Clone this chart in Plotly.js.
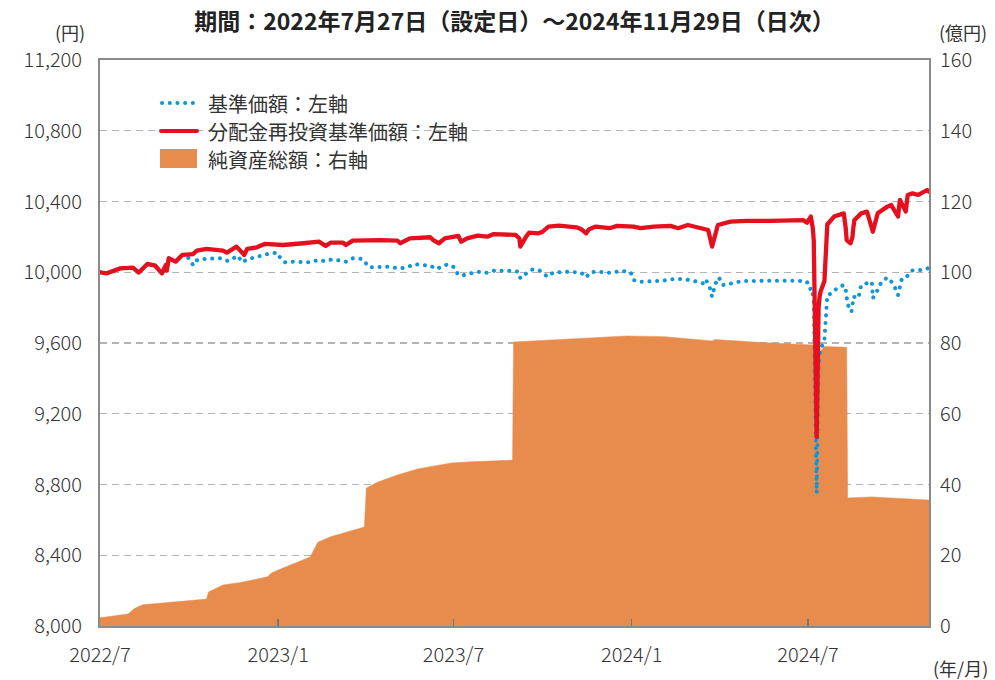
<!DOCTYPE html>
<html>
<head>
<meta charset="utf-8">
<script src="https://cdn.plot.ly/plotly-3.0.1.min.js"></script>
<style>
  body { margin: 0; background: #fff; }
  #chart { width: 995px; height: 680px; }
  .js-line, .shapelayer path { stroke-linecap: round; stroke-linejoin: round; }
</style>
</head>
<body>
<div id="chart"></div>
<script>
// 分配金再投資基準価額 (円, 左軸)
const reinvDates = [
  '2022-07-27','2022-08-03','2022-08-17','2022-08-30','2022-09-05','2022-09-14','2022-09-22','2022-09-29',
  '2022-10-03','2022-10-04','2022-10-06','2022-10-13','2022-10-20','2022-10-31','2022-11-04','2022-11-14',
  '2022-12-01','2022-12-05','2022-12-15','2022-12-21','2022-12-23','2022-12-26','2023-01-05','2023-01-13',
  '2023-01-26','2023-02-01','2023-02-22','2023-03-10','2023-03-17','2023-03-22','2023-04-04','2023-04-07',
  '2023-04-14','2023-05-02','2023-05-12','2023-05-30','2023-06-02','2023-06-12','2023-07-03','2023-07-06',
  '2023-07-12','2023-07-18','2023-08-01','2023-08-04','2023-08-10','2023-08-21','2023-08-31','2023-09-06',
  '2023-09-29','2023-10-03','2023-10-04','2023-10-10','2023-10-13','2023-10-23','2023-10-27','2023-11-02',
  '2023-11-13','2023-12-01','2023-12-06','2023-12-11','2023-12-14','2023-12-21','2024-01-04','2024-01-12',
  '2024-01-29','2024-02-05','2024-02-19','2024-03-07','2024-03-15','2024-03-25','2024-04-09','2024-04-15',
  '2024-04-19','2024-04-25','2024-05-08','2024-05-24','2024-06-18','2024-07-22','2024-07-26','2024-07-30',
  '2024-08-01','2024-08-02','2024-08-05','2024-08-06','2024-08-07','2024-08-08','2024-08-09','2024-08-13',
  '2024-08-14','2024-08-15','2024-08-16','2024-08-23','2024-09-02','2024-09-04','2024-09-05','2024-09-09',
  '2024-09-11','2024-09-12','2024-09-13','2024-09-20','2024-09-26','2024-10-02','2024-10-07','2024-10-17',
  '2024-10-21','2024-10-28','2024-10-30','2024-11-05','2024-11-07','2024-11-12','2024-11-18','2024-11-27',
  '2024-11-29'
];
const reinvValues = [
  10000, 9994, 10022, 10026, 9998, 10047, 10037, 9994,
  10041, 10009, 10079, 10060, 10098, 10103, 10122, 10132,
  10122, 10111, 10145, 10103, 10098, 10132, 10141, 10160,
  10160, 10154, 10164, 10173, 10149, 10167, 10167, 10154,
  10179, 10182, 10182, 10179, 10164, 10192, 10198, 10182,
  10164, 10192, 10205, 10173, 10192, 10207, 10201, 10215,
  10211, 10192, 10145, 10201, 10224, 10220, 10229, 10258,
  10263, 10254, 10243, 10220, 10243, 10258, 10249, 10262,
  10258, 10249, 10258, 10262, 10249, 10267, 10249, 10239,
  10145, 10267, 10286, 10291, 10291, 10295, 10280, 10315,
  10250, 10180, 9069, 9600, 9800, 9860, 9890, 9950,
  10035, 10200, 10270, 10315, 10333, 10250, 10182, 10164,
  10200, 10258, 10295, 10333, 10343, 10229, 10333, 10371,
  10380, 10315, 10409, 10343, 10437, 10446, 10437, 10465,
  10456
];

// 基準価額 (円, 左軸)
const navDates = [
  '2022-07-27','2022-08-03','2022-08-17','2022-08-30','2022-09-05','2022-09-14','2022-09-22','2022-09-29',
  '2022-10-03','2022-10-04','2022-10-06','2022-10-13','2022-10-20','2022-10-27','2022-10-31','2022-11-02',
  '2022-11-10','2022-11-21','2022-11-28','2022-12-05','2022-12-09','2022-12-16','2022-12-21','2022-12-26',
  '2023-01-04','2023-01-10','2023-01-16','2023-01-26','2023-01-30','2023-02-03','2023-02-10','2023-03-01',
  '2023-03-09','2023-03-16','2023-03-24','2023-04-07','2023-04-14','2023-04-24','2023-04-28','2023-05-01',
  '2023-05-19','2023-05-29','2023-06-02','2023-06-09','2023-06-16','2023-07-03','2023-07-10','2023-07-14',
  '2023-07-21','2023-07-28','2023-07-31','2023-08-04','2023-08-10','2023-08-23','2023-08-31','2023-09-07',
  '2023-09-22','2023-10-02','2023-10-04','2023-10-11','2023-10-17','2023-10-24','2023-10-27','2023-11-01',
  '2023-11-07','2023-11-24','2023-12-06','2023-12-11','2023-12-15','2023-12-22','2024-01-04','2024-01-10',
  '2024-01-18','2024-01-26','2024-01-29','2024-02-05','2024-02-28','2024-03-07','2024-03-21','2024-04-04',
  '2024-04-10','2024-04-12','2024-04-16','2024-04-19','2024-04-22','2024-04-26','2024-04-30','2024-05-07',
  '2024-05-20','2024-06-21','2024-07-17','2024-07-26','2024-07-29','2024-07-31','2024-08-01','2024-08-02',
  '2024-08-05','2024-08-06','2024-08-07','2024-08-08','2024-08-09','2024-08-13','2024-08-14','2024-08-15',
  '2024-08-16','2024-08-21','2024-08-26','2024-09-02','2024-09-04','2024-09-05','2024-09-06','2024-09-09',
  '2024-09-10','2024-09-11','2024-09-12','2024-09-17','2024-09-18','2024-09-20','2024-10-01','2024-10-02',
  '2024-10-07','2024-10-11','2024-10-17','2024-10-23','2024-10-28','2024-11-01','2024-11-06','2024-11-11',
  '2024-11-22','2024-11-28','2024-11-29'
];
const navValues = [
  10000, 9994, 10022, 10026, 9998, 10047, 10037, 9994,
  10041, 10009, 10079, 10060, 10098, 10079, 10041, 10065,
  10075, 10079, 10079, 10065, 10069, 10094, 10056, 10073,
  10088, 10098, 10103, 10111, 10073, 10056, 10060, 10056,
  10069, 10063, 10073, 10060, 10079, 10075, 10045, 10028,
  10031, 10028, 10022, 10028, 10045, 10037, 10018, 10031,
  10045, 10028, 9994, 9979, 9990, 10003, 9997, 10009,
  10009, 10003, 9966, 9997, 10017, 10009, 9994, 9975,
  9999, 10003, 9997, 9971, 9999, 10003, 9997, 9999,
  10007, 9999, 9956, 9946, 9952, 9960, 9962, 9946,
  9937, 9960, 9928, 9862, 9930, 9971, 9928, 9934,
  9950, 9952, 9952, 9946, 9905, 9910, 9882, 9834,
  8752, 9280, 9470, 9530, 9560, 9620, 9700, 9834,
  9871, 9882, 9910, 9928, 9905, 9862, 9815, 9798,
  9777, 9815, 9862, 9853, 9890, 9928, 9946, 9853,
  9900, 9946, 9971, 9937, 9871, 9966, 9975, 10009,
  10013, 10022, 10024
];

// 純資産総額 (億円, 右軸)
const assetDates = [
  '2022-07-27','2022-08-25','2022-09-01','2022-09-09','2022-11-14','2022-11-16','2022-12-01','2022-12-19',
  '2023-01-16','2023-01-20','2023-02-01','2023-02-14','2023-03-01','2023-03-09','2023-03-22','2023-04-26',
  '2023-04-28','2023-05-10','2023-05-30','2023-06-20','2023-07-25','2023-08-14','2023-09-26','2023-09-27',
  '2023-11-13','2024-01-22','2024-03-01','2024-04-19','2024-04-22','2024-06-05','2024-08-02','2024-08-05',
  '2024-08-13','2024-09-02','2024-09-05','2024-09-06','2024-10-01','2024-11-29'
];
const assetValues = [
  2.3, 3.4, 5.0, 6.0, 7.6, 9.6, 11.6, 12.3,
  13.9, 15.0, 16.4, 17.8, 19.5, 23.7, 25.2, 28.0,
  39.0, 40.7, 42.7, 44.4, 46.1, 46.4, 46.9, 80.3,
  81.0, 82.0, 81.8, 80.6, 81.0, 80.2, 79.4, 76.3,
  79.0, 79.0, 78.8, 36.2, 36.5, 35.6
];

// x軸目盛
const tickDates = ['2022-07-27', '2023-01-27', '2023-07-27', '2024-01-27', '2024-07-27'];
const tickLabels = ['2022/7', '2023/1', '2023/7', '2024/1', '2024/7'];

const legendNames = ['基準価額：左軸', '分配金再投資基準価額：左軸', '純資産総額：右軸'];

const BLUE = '#0f96d8';
const RED = '#e60f1e';
const ORANGE = '#e88c4e';
const TEXT = '#333333';
const jp = '"Noto Sans CJK JP", "Noto Sans", sans-serif';

const traces = [
  {
    x: assetDates, y: assetValues, yaxis: 'y', type: 'scatter', mode: 'lines',
    fill: 'tozeroy', fillcolor: ORANGE, line: {color: ORANGE, width: 0.5},
    name: legendNames[2], hoverinfo: 'skip'
  },
  {
    x: navDates, y: navValues, yaxis: 'y2', type: 'scatter', mode: 'lines',
    line: {color: BLUE, width: 4, dash: '0.1px,7.6px'},
    name: legendNames[0]
  },
  {
    x: reinvDates, y: reinvValues, yaxis: 'y2', type: 'scatter', mode: 'lines',
    line: {color: RED, width: 4.3},
    name: legendNames[1]
  }
];

// legend drawn by hand (paper coords)
const px = v => (v - 100) / 829;
const py = v => (626 - v) / 566;
const legendRows = [103, 131, 159];

const shapes = [
  {type: 'line', xref: 'paper', yref: 'paper', x0: px(162), x1: px(197), y0: py(legendRows[0]), y1: py(legendRows[0]),
   line: {color: BLUE, width: 4, dash: '0.1px,7.6px'}},
  {type: 'line', xref: 'paper', yref: 'paper', x0: px(161), x1: px(197), y0: py(legendRows[1]), y1: py(legendRows[1]),
   line: {color: RED, width: 4}},
  {type: 'rect', xref: 'paper', yref: 'paper', x0: px(160), x1: px(197), y0: py(168), y1: py(149),
   fillcolor: ORANGE, line: {width: 0}}
];

const annotations = legendNames.map((t, i) => ({
  text: t, xref: 'paper', yref: 'paper', x: px(206), y: py(legendRows[i]),
  xanchor: 'left', yanchor: 'middle', showarrow: false,
  font: {family: jp, size: 20, color: TEXT}
}));
annotations.push(
  {text: '(円)', xref: 'paper', yref: 'paper', x: px(70), y: py(32), xanchor: 'center', yanchor: 'middle',
   showarrow: false, font: {family: jp, size: 18, color: TEXT}},
  {text: '(億円)', xref: 'paper', yref: 'paper', x: px(963), y: py(32), xanchor: 'center', yanchor: 'middle',
   showarrow: false, font: {family: jp, size: 18, color: TEXT}},
  {text: '(年/月)', xref: 'paper', yref: 'paper', x: px(960), y: py(668), xanchor: 'center', yanchor: 'middle',
   showarrow: false, font: {family: jp, size: 18, color: TEXT}}
);

const tickFont = {family: jp, size: 20, color: TEXT, weight: 300};

const layout = {
  width: 995, height: 680,
  margin: {l: 100, r: 66, t: 60, b: 54},
  paper_bgcolor: '#ffffff', plot_bgcolor: '#ffffff',
  showlegend: false,
  title: {
    text: '期間：2022年7月27日（設定日）～2024年11月29日（日次）',
    font: {family: jp, size: 23, color: '#222222', weight: 'bold'},
    x: 0.5, xref: 'paper', xanchor: 'center', y: 1 - 22 / 680, yref: 'container', yanchor: 'middle'
  },
  xaxis: {
    type: 'date', range: ['2022-07-27', '2024-11-29'],
    tickmode: 'array', tickvals: tickDates, ticktext: tickLabels,
    ticks: 'inside', ticklen: 7, tickwidth: 1.5, tickcolor: '#777777',
    showline: true, mirror: true, linecolor: '#8a8a8a', linewidth: 2,
    showgrid: false, zeroline: false, tickfont: tickFont, ticklabelstandoff: 10
  },
  yaxis: {
    side: 'right', range: [0, 160], tickmode: 'linear', tick0: 0, dtick: 20,
    showgrid: true, gridcolor: '#b3b3b3', gridwidth: 1.3, griddash: '7px,5px',
    showline: true, linecolor: '#8a8a8a', linewidth: 2, zeroline: false,
    ticks: '', tickfont: tickFont, ticklabelstandoff: 5
  },
  yaxis2: {
    overlaying: 'y', side: 'left', range: [8000, 11200], tickmode: 'linear', tick0: 8000, dtick: 400,
    tickformat: ',d', showgrid: false, showline: true, linecolor: '#8a8a8a', linewidth: 2, zeroline: false,
    ticks: '', tickfont: tickFont, ticklabelstandoff: 12
  },
  shapes: shapes,
  annotations: annotations
};

Plotly.newPlot('chart', traces, layout, {staticPlot: true, displayModeBar: false});
</script>
</body>
</html>
